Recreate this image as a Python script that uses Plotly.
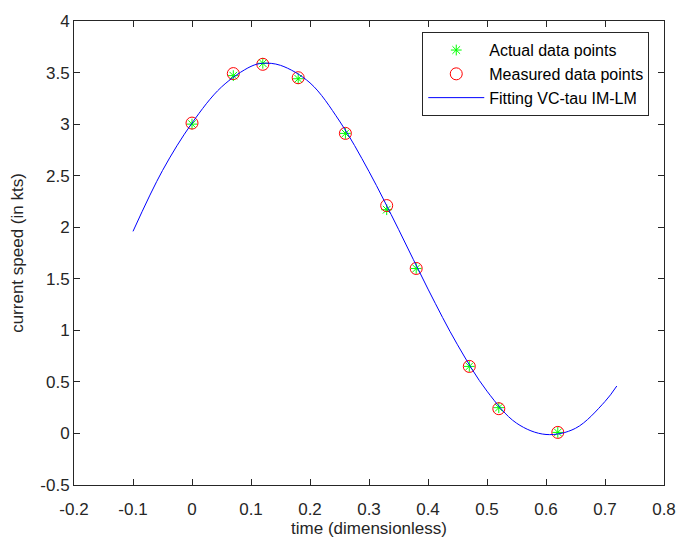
import plotly.graph_objects as go

# data points
t_pts = [0.0, 0.07, 0.12, 0.18, 0.26, 0.33, 0.38, 0.47, 0.52, 0.62]
actual = [3.00, 3.47, 3.59, 3.44, 2.91, 2.17, 1.60, 0.65, 0.25, 0.01]
measured = [3.01, 3.49, 3.58, 3.45, 2.91, 2.21, 1.60, 0.65, 0.24, 0.01]

# fitted curve
t_fit = [-0.10, -0.05, 0.00, 0.05, 0.10, 0.12, 0.15, 0.20, 0.25, 0.30, 0.35,
         0.40, 0.45, 0.50, 0.55, 0.60, 0.65, 0.70, 0.72]
v_fit = [1.96, 2.55, 3.01, 3.36, 3.56, 3.59, 3.57, 3.40, 3.03, 2.54, 1.98,
         1.40, 0.86, 0.41, 0.10, -0.01, 0.05, 0.31, 0.46]

xticks = [-0.2, -0.1, 0, 0.1, 0.2, 0.3, 0.4, 0.5, 0.6, 0.7, 0.8]
yticks = [-0.5, 0, 0.5, 1, 1.5, 2, 2.5, 3, 3.5, 4]

FONT = "Liberation Sans, Arial, sans-serif"
AX = "#262626"

fig = go.Figure()
fig.add_trace(go.Scatter(x=t_pts, y=actual, mode="markers", name="Actual data points",
                         marker=dict(symbol="asterisk-open", size=9,
                                     line=dict(color="#00ff00", width=1), color="#00ff00")))
fig.add_trace(go.Scatter(x=t_pts, y=measured, mode="markers", name="Measured data points",
                         marker=dict(symbol="circle-open", size=12,
                                     line=dict(color="#ff0000", width=1), color="#ff0000")))
fig.add_trace(go.Scatter(x=t_fit, y=v_fit, mode="lines", name="Fitting VC-tau IM-LM",
                         line=dict(color="#0000ff", width=1, shape="spline")))

axis_common = dict(showgrid=False, zeroline=False, showline=True, linecolor=AX, linewidth=1,
                   mirror="ticks", ticks="inside", ticklen=6, tickcolor=AX,
                   tickfont=dict(family=FONT, size=17, color=AX))

fig.update_xaxes(range=[-0.2, 0.8], tickvals=xticks,
                 ticktext=[f"{v:g}" for v in xticks],
                 ticklabelstandoff=9,
                 title=dict(text="time (dimensionless)", font=dict(family=FONT, size=17, color=AX),
                            standoff=1),
                 **axis_common)
fig.update_yaxes(range=[-0.5, 4], tickvals=yticks,
                 ticktext=[f"{v:g}" for v in yticks],
                 title=dict(text="current speed (in kts)", font=dict(family=FONT, size=17, color=AX),
                            standoff=12),
                 **axis_common)

fig.update_layout(
    width=688, height=547,
    margin=dict(l=74, r=20, t=13, b=62),
    paper_bgcolor="white", plot_bgcolor="white",
    font=dict(family=FONT, color=AX),
    legend=dict(x=0.975, y=0.976, xanchor="right", yanchor="top",
                bordercolor=AX, borderwidth=1, bgcolor="white",
                font=dict(family=FONT, size=16, color="#000000"),
                tracegroupgap=0, itemwidth=56),
    showlegend=True,
)

fig.write_html("out.html")
